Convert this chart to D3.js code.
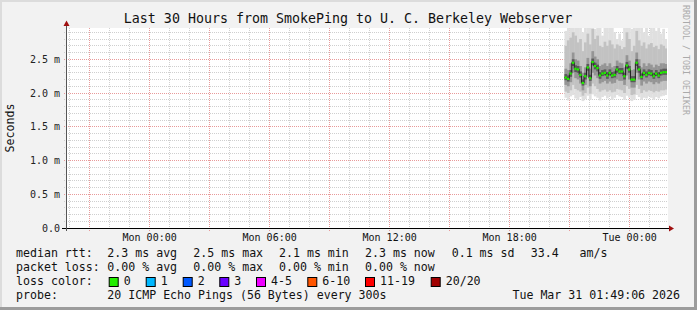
<!DOCTYPE html>
<html>
<head>
<meta charset="utf-8">
<script src="https://cdn.jsdelivr.net/npm/d3@7"></script>
<style>
  body { margin: 0; background: #f2f2f2; }
  svg text { font-family: "DejaVu Sans Mono", monospace; white-space: pre; }
</style>
</head>
<body>
<script>
// time range of the graph (last 30 hours)
var startTime = Date.UTC(2026, 2, 29, 19, 49, 6),
    endTime = Date.UTC(2026, 2, 31, 1, 49, 6);

// first sample and sample step (seconds)
var firstSample = Date.UTC(2026, 2, 30, 20, 48, 12),
    stepSec = 440;

// median rtt per sample (ms)
var median = [2.23, 2.21, 2.29, 2.45, 2.36, 2.35, 2.27, 2.15, 2.25, 2.38, 2.22, 2.46, 2.40, 2.37,
  2.26, 2.29, 2.30, 2.26, 2.30, 2.26, 2.27, 2.35, 2.32, 2.32, 2.25, 2.41, 2.35, 2.20,
  2.20, 2.45, 2.35, 2.24, 2.30, 2.27, 2.30, 2.29, 2.25, 2.29, 2.26, 2.30, 2.31, 2.31];

// smoke: spread of the 20 pings per sample (ms)
var pingMax = [2.92, 3.05, 3.1, 3.0, 3.1, 2.98, 3.05, 2.9, 3.1, 3.0, 3.05, 3.1, 2.95, 3.1,
  3.0, 2.85, 3.05, 3.1, 2.98, 3.0, 2.9, 2.8, 2.88, 2.78, 3.0, 3.1, 3.05, 2.95,
  3.1, 3.05, 2.98, 3.1, 2.9, 3.0, 2.85, 3.05, 3.1, 2.92, 3.0, 2.88, 2.95, 2.8];
var ping90 = [2.7, 2.78, 2.82, 2.9, 2.85, 2.75, 2.8, 2.62, 2.75, 2.88, 2.72, 2.95, 2.8, 2.85,
  2.7, 2.68, 2.76, 2.7, 2.78, 2.72, 2.66, 2.72, 2.7, 2.65, 2.68, 2.9, 2.8, 2.62,
  2.7, 2.92, 2.78, 2.7, 2.75, 2.66, 2.72, 2.74, 2.68, 2.7, 2.65, 2.72, 2.7, 2.66];
var ping75 = [2.36, 2.34, 2.44, 2.6, 2.5, 2.48, 2.4, 2.3, 2.38, 2.52, 2.36, 2.62, 2.54, 2.5,
  2.4, 2.42, 2.44, 2.4, 2.44, 2.38, 2.4, 2.48, 2.45, 2.44, 2.38, 2.56, 2.48, 2.34,
  2.35, 2.6, 2.5, 2.38, 2.44, 2.4, 2.44, 2.42, 2.38, 2.42, 2.4, 2.44, 2.44, 2.43];
var ping60 = [2.28, 2.26, 2.34, 2.5, 2.41, 2.4, 2.32, 2.2, 2.3, 2.43, 2.27, 2.51, 2.45, 2.42,
  2.31, 2.34, 2.35, 2.31, 2.35, 2.31, 2.32, 2.4, 2.37, 2.37, 2.3, 2.46, 2.4, 2.25,
  2.25, 2.5, 2.4, 2.29, 2.35, 2.32, 2.35, 2.34, 2.3, 2.34, 2.31, 2.35, 2.36, 2.36];
var ping40 = [2.19, 2.17, 2.24, 2.4, 2.31, 2.3, 2.23, 2.11, 2.2, 2.33, 2.18, 2.41, 2.35, 2.32,
  2.21, 2.25, 2.26, 2.21, 2.26, 2.22, 2.23, 2.3, 2.28, 2.28, 2.2, 2.36, 2.3, 2.16,
  2.16, 2.4, 2.3, 2.2, 2.26, 2.23, 2.26, 2.25, 2.21, 2.25, 2.22, 2.26, 2.27, 2.27];
var ping25 = [2.12, 2.1, 2.16, 2.3, 2.22, 2.2, 2.14, 2.04, 2.12, 2.24, 2.1, 2.3, 2.26, 2.22,
  2.14, 2.16, 2.18, 2.14, 2.17, 2.14, 2.15, 2.2, 2.18, 2.18, 2.12, 2.26, 2.2, 2.08,
  2.08, 2.3, 2.2, 2.11, 2.17, 2.14, 2.17, 2.16, 2.13, 2.16, 2.14, 2.17, 2.18, 2.18];
var ping10 = [2.02, 2.0, 2.04, 2.12, 2.06, 2.04, 2.02, 1.96, 2.0, 2.08, 1.99, 2.14, 2.1, 2.06,
  2.02, 2.04, 2.05, 2.02, 2.04, 2.01, 2.02, 2.06, 2.05, 2.04, 2.0, 2.1, 2.06, 1.97,
  1.98, 2.12, 2.06, 2.0, 2.04, 2.02, 2.04, 2.03, 2.01, 2.03, 2.02, 2.04, 2.04, 2.05];
var pingMin = [1.93, 1.89, 1.95, 1.97, 1.92, 1.9, 1.94, 1.88, 1.91, 1.96, 1.9, 1.98, 1.95, 1.93,
  1.89, 1.94, 1.96, 1.92, 1.95, 1.9, 1.93, 1.97, 1.95, 1.94, 1.9, 1.96, 1.93, 1.88,
  1.9, 1.97, 1.94, 1.9, 1.93, 1.92, 1.95, 1.93, 1.9, 1.94, 1.92, 1.95, 1.96, 1.97];

var yTicks = [0, 0.5, 1.0, 1.5, 2.0, 2.5];
var yTickLabels = ["0.0", "0.5 m", "1.0 m", "1.5 m", "2.0 m", "2.5 m"];

var lossLabels = ["0", "1", "2", "3", "4-5", "6-10", "11-19", "20/20"];
var lossColors = ["#22ee00", "#00b8ff", "#0059ff", "#6a00ff", "#ee00ff", "#ff5500", "#ff0000", "#a00000"];

var W = 697, H = 310;
var plot = {left: 66, right: 666, top: 28, bottom: 228};

var svg = d3.select("body").append("svg")
    .attr("width", W)
    .attr("height", H);

// background + frame
svg.append("rect").attr("width", W).attr("height", H).attr("fill", "#f2f2f2");
svg.append("rect").attr("x", 0).attr("y", 0).attr("width", W).attr("height", 2).attr("fill", "#dcdcdc");
svg.append("rect").attr("x", 0).attr("y", 0).attr("width", 2).attr("height", H).attr("fill", "#dcdcdc");
svg.append("rect").attr("x", W - 3).attr("y", 0).attr("width", 3).attr("height", H).attr("fill", "#9c9c9c");
svg.append("rect").attr("x", 0).attr("y", H - 3).attr("width", W).attr("height", 3).attr("fill", "#9c9c9c");

var x = d3.scaleUtc()
  .domain([startTime, endTime])
  .range([plot.left, plot.right]);

var y = d3.scaleLinear()
  .domain([0, 3])
  .range([plot.bottom, 25.5]);

function px(v) { return Math.floor(v) + 0.5; }

// plot area
svg.append("rect")
  .attr("x", plot.left + 1).attr("y", plot.top)
  .attr("width", plot.right - plot.left + 1).attr("height", plot.bottom - plot.top)
  .attr("fill", "#fff");

// grid
var grid = svg.append("g");
function onHalf(v) { return Math.abs(v * 2 - Math.round(v * 2)) < 1e-6; }
var minorY = d3.range(1, 30).map(function(i) { return i / 10; })
  .filter(function(v) { return !onHalf(v) && y(v) >= plot.top; });

grid.selectAll(".hy").data(minorY).enter().append("line")
  .attr("x1", plot.left - 2).attr("x2", plot.right + 1)
  .attr("y1", function(d) { return px(y(d)); }).attr("y2", function(d) { return px(y(d)); })
  .attr("stroke", "#cfcfcf").attr("stroke-dasharray", "1,1");

var hours = d3.utcHour.range(new Date(startTime), new Date(endTime));
var minorX = hours.filter(function(d) { return d.getUTCHours() % 3 !== 0; });
var majorX = hours.filter(function(d) { return d.getUTCHours() % 3 === 0; });

grid.selectAll(".vx").data(minorX).enter().append("line")
  .attr("x1", function(d) { return px(x(d)); }).attr("x2", function(d) { return px(x(d)); })
  .attr("y1", plot.top).attr("y2", plot.bottom + 2)
  .attr("stroke", "#cfcfcf").attr("stroke-dasharray", "1,1");

grid.selectAll(".my").data(yTicks.slice(1)).enter().append("line")
  .attr("x1", plot.left - 2).attr("x2", plot.right + 1)
  .attr("y1", function(d) { return px(y(d)); }).attr("y2", function(d) { return px(y(d)); })
  .attr("stroke", "#e89a9a").attr("stroke-dasharray", "1,1");

grid.selectAll(".mx").data(majorX).enter().append("line")
  .attr("x1", function(d) { return px(x(d)); }).attr("x2", function(d) { return px(x(d)); })
  .attr("y1", plot.top).attr("y2", plot.bottom + 3)
  .attr("stroke", "#e89a9a").attr("stroke-dasharray", "1,1");

// smoke
var samples = median.map(function(m, i) {
  return {t: firstSample + i * stepSec * 1000, med: m, max: pingMax[i], p90: ping90[i],
          p75: ping75[i], p60: ping60[i], p40: ping40[i], p25: ping25[i],
          p10: ping10[i], min: pingMin[i]};
});
var stepPx = x(firstSample + stepSec * 1000) - x(firstSample);

svg.append("clipPath").attr("id", "clip")
  .append("rect").attr("x", plot.left + 1).attr("y", plot.top)
  .attr("width", plot.right - plot.left).attr("height", plot.bottom - plot.top);

var smoke = svg.append("g").attr("clip-path", "url(#clip)");
var layers = [
  {lo: "min", hi: "max", color: "#e0e0e0"},
  {lo: "p10", hi: "p90", color: "#c2c2c2"},
  {lo: "p25", hi: "p75", color: "#959595"},
  {lo: "p40", hi: "p60", color: "#5a5a5a"}
];
layers.forEach(function(L) {
  smoke.selectAll(null).data(samples).enter().append("rect")
    .attr("x", function(d) { return x(d.t) - stepPx / 2; })
    .attr("width", stepPx + 0.3)
    .attr("y", function(d) { return y(d[L.hi]); })
    .attr("height", function(d) { return y(d[L.lo]) - y(d[L.hi]); })
    .attr("fill", L.color);
});

// median: dark step line with green segments
smoke.append("path")
  .datum(samples)
  .attr("fill", "none")
  .attr("stroke", "#222")
  .attr("stroke-width", 1)
  .attr("d", d3.line()
    .x(function(d) { return x(d.t) - stepPx / 2; })
    .y(function(d) { return y(d.med); })
    .curve(d3.curveStepAfter));

smoke.selectAll(".med").data(samples).enter().append("rect")
  .attr("x", function(d) { return x(d.t) - stepPx / 2; })
  .attr("width", stepPx)
  .attr("y", function(d) { return y(d.med) - 1; })
  .attr("height", 2.2)
  .attr("fill", lossColors[0]);

// axes
var axisG = svg.append("g");
axisG.append("line")
  .attr("x1", 62).attr("x2", 669)
  .attr("y1", plot.bottom + 0.5).attr("y2", plot.bottom + 0.5)
  .attr("stroke", "#000");
axisG.append("path")
  .attr("d", "M669,225.5L674,228.5L669,231.5Z")
  .attr("fill", "#a01010");
axisG.append("line")
  .attr("x1", plot.left + 0.5).attr("x2", plot.left + 0.5)
  .attr("y1", plot.bottom + 3).attr("y2", 24)
  .attr("stroke", "#555");
axisG.append("path")
  .attr("d", "M63.5,26L66.5,20.5L69.5,26Z")
  .attr("fill", "#a01010");

// y labels
svg.selectAll(".yl").data(yTicks).enter().append("text")
  .attr("x", 60)
  .attr("y", function(d) { return y(d) + 3.5; })
  .attr("text-anchor", "end")
  .attr("font-size", "10px")
  .attr("fill", "#222")
  .text(function(d, i) { return yTickLabels[i]; });

// x labels
var labelX = hours.filter(function(d) { return d.getUTCHours() % 6 === 0; });
var fmt = d3.utcFormat("%a %H:%M");
svg.selectAll(".xl").data(labelX).enter().append("text")
  .attr("x", function(d) { return x(d); })
  .attr("y", 241)
  .attr("text-anchor", "middle")
  .attr("font-size", "10px")
  .attr("fill", "#111")
  .text(function(d) { return fmt(d); });

// title
svg.append("text")
  .attr("x", 348).attr("y", 23)
  .attr("text-anchor", "middle")
  .attr("font-size", "13.3px")
  .attr("fill", "#111")
  .text("Last 30 Hours from SmokePing to U. C. Berkeley Webserver");

// y axis title
svg.append("text")
  .attr("transform", "translate(14,128) rotate(-90)")
  .attr("text-anchor", "middle")
  .attr("font-size", "11.6px")
  .attr("fill", "#111")
  .text("Seconds");

// watermark
svg.append("text")
  .attr("transform", "translate(683,60) rotate(90)")
  .attr("text-anchor", "middle")
  .attr("font-size", "8.3px")
  .attr("fill", "#aaa")
  .text("RRDTOOL / TOBI OETIKER");

// legend
var legendRows = [
  [[16, "median rtt:"], [107.3, "2.3 ms avg"], [193.3, "2.5 ms max"], [279, "2.1 ms min"],
   [365, "2.3 ms now"], [451.7, "0.1 ms sd"], [530.7, "33.4   am/s"]],
  [[16, "packet loss:"], [107.3, "0.00 % avg"], [193.3, "0.00 % max"], [279, "0.00 % min"],
   [365, "0.00 % now"]],
  [[16, "loss color:"]],
  [[16, "probe:"], [107.3, "20 ICMP Echo Pings (56 Bytes) every 300s"]]
];
var rowY = [257, 271, 285, 299];
var legend = svg.append("g").attr("font-size", "11.6px").attr("fill", "#111");
legendRows.forEach(function(row, r) {
  row.forEach(function(item) {
    legend.append("text").attr("x", item[0]).attr("y", rowY[r]).text(item[1]);
  });
});
legend.append("text").attr("x", 680).attr("y", rowY[3]).attr("text-anchor", "end")
  .text("Tue Mar 31 01:49:06 2026");

var swatchX = [108.7, 145.7, 182.7, 219.3, 256, 307.3, 365, 430.7];
lossLabels.forEach(function(lbl, i) {
  legend.append("rect")
    .attr("x", swatchX[i] + 0.5).attr("y", 277.5)
    .attr("width", 9).attr("height", 9)
    .attr("fill", lossColors[i]).attr("stroke", "#000");
  legend.append("text").attr("x", swatchX[i] + 15).attr("y", rowY[2]).text(lbl);
});
</script>
</body>
</html>
